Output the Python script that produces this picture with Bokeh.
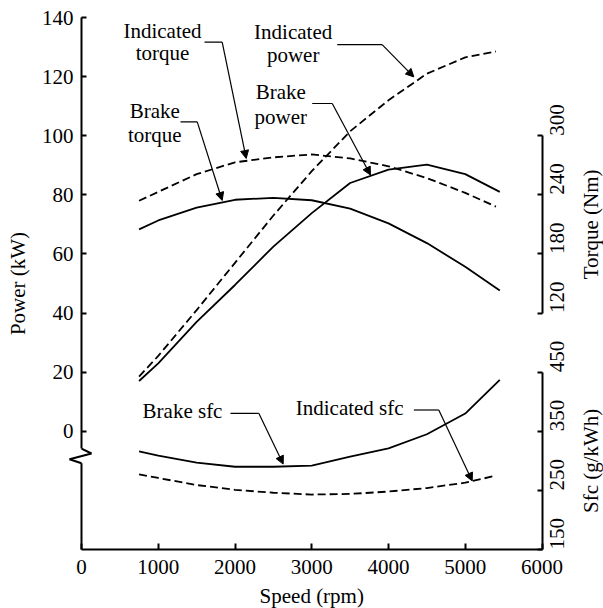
import math
from bokeh.plotting import figure
from bokeh.models import (Range1d, LinearAxis, FixedTicker, Arrow, NormalHead,
                          Label, ColumnDataSource)
from bokeh.embed import file_html
from bokeh.resources import INLINE

# ---------------- data ----------------
speed_brake = [750, 1000, 1500, 2000, 2500, 3000, 3500, 4000, 4500, 5000, 5450]
speed_ind = [750, 1000, 1500, 2000, 2500, 3000, 3500, 4000, 4500, 5000, 5400]

brake_power = [17, 23, 37, 49.5, 62.5, 73.8, 84, 88.5, 90.2, 87, 81]
ind_power = [18.5, 25.5, 41, 57, 73, 88, 101.5, 112, 121, 126.5, 128.5]

brake_torque = [205, 214, 227, 235, 237, 234.5, 226, 211, 191, 167, 143]
ind_torque = [234, 243, 261, 273, 278, 281, 277, 269, 257, 242, 228]

brake_sfc = [316, 309, 297, 290, 290, 292, 307, 321, 345, 380, 437]
ind_sfc = [277, 271, 259, 251, 246, 243, 244, 248, 254, 263, 275]

speed_ticks = [0, 1000, 2000, 3000, 4000, 5000, 6000]
power_ticks = [0, 20, 40, 60, 80, 100, 120, 140]
torque_ticks = [120, 180, 240, 300]
sfc_ticks = [150, 250, 350, 450]

# axis extents (in each quantity's own units)
speed_axis = (0, 6000)
power_axis = (-40, 140)          # bottom axis sits at -40 kW
power_axis_break = (-5.84, -10.8)
torque_on_power = (40, 100)      # where 120..300 Nm sits on the power scale
sfc_on_power = (-40, 20)         # where 150..450 g/kWh sits on the power scale

# callouts
ann_text = ["Indicated", "torque", "Indicated", "power", "Brake", "power",
            "Brake", "torque", "Brake sfc", "Indicated sfc"]
ann_x = [1055, 1055, 2758, 2758, 2597, 2597, 954, 954, 1316, 3494]
ann_y = [135.6, 127.9, 135.1, 127.2, 114.8, 106.4, 108.3, 100.2, 6.85, 8.0]

leaders = [
    [(1603, 131.7), (1833, 131.7), (2146, 92.3)],
    [(3332, 130.8), (3917, 130.8), (4330, 119.9)],
    [(3006, 110.9), (3267, 110.9), (3765, 86.7)],
    [(1290, 104.7), (1508, 104.7), (1833, 78.1)],
    [(1941, 6.07), (2310, 6.07), (2628, -11.1)],
    [(4330, 7.2), (4655, 7.2), (5091, -16.8)],
]

FONT = "Liberation Serif"
FS = "21px"
LW = 1.8
DASH = "8 4"

W, H = 603, 608
# pixel placement of the axes box inside the canvas
PX_LEFT, PX_RIGHT, PX_TOP, PX_BOTTOM = 81, 541.5, 17, 549

kx = (speed_axis[1] - speed_axis[0]) / (PX_RIGHT - PX_LEFT)
ky = (power_axis[1] - power_axis[0]) / (PX_BOTTOM - PX_TOP)
x_range = Range1d(speed_axis[0] - PX_LEFT * kx, speed_axis[1] + (W - PX_RIGHT) * kx)
y_range = Range1d(power_axis[0] - (H - PX_BOTTOM) * ky, power_axis[1] + PX_TOP * ky)


def extra_range(vals, on_power):
    v0, v1 = vals[0], vals[-1]
    s = (v1 - v0) / (on_power[1] - on_power[0])
    return Range1d(v0 + (y_range.start - on_power[0]) * s,
                   v0 + (y_range.end - on_power[0]) * s)


p = figure(width=W, height=H, x_range=x_range, y_range=y_range,
           x_axis_location=None, y_axis_location=None,
           output_backend="svg", toolbar_location=None, min_border=0)
p.extra_y_ranges = {"torque": extra_range(torque_ticks, torque_on_power),
                    "sfc": extra_range(sfc_ticks, sfc_on_power)}
p.grid.visible = False
p.outline_line_color = None
p.background_fill_color = "white"
p.border_fill_color = "white"

# curves
p.line(speed_ind, ind_power, line_dash=DASH, line_width=LW, color="black")
p.line(speed_brake, brake_power, line_width=LW, color="black")
p.line(speed_ind, ind_torque, y_range_name="torque", line_dash=DASH, line_width=LW, color="black")
p.line(speed_brake, brake_torque, y_range_name="torque", line_width=LW, color="black")
p.line(speed_brake, brake_sfc, y_range_name="sfc", line_width=LW, color="black")
p.line(speed_ind, ind_sfc, y_range_name="sfc", line_dash=DASH, line_width=LW, color="black")


def make_axis(ticks, **kw):
    ax = LinearAxis(ticker=FixedTicker(ticks=ticks), **kw)
    ax.major_tick_in = 5
    ax.major_tick_out = 0
    ax.minor_tick_line_color = None
    ax.major_tick_line_width = 2
    ax.axis_line_width = 2
    ax.major_label_text_font = FONT
    ax.major_label_text_font_size = FS
    ax.major_label_text_color = "black"
    ax.axis_line_color = "black"
    ax.major_tick_line_color = "black"
    return ax


bottom = make_axis(speed_ticks, fixed_location=power_axis[0], bounds=speed_axis)
bottom.major_tick_in = 6
bottom.major_label_standoff = 10
p.add_layout(bottom, "below")

left = make_axis(power_ticks, fixed_location=speed_axis[0],
                 bounds=(power_axis_break[0], power_axis[1]))
left.major_label_standoff = 8
p.add_layout(left, "left")

right_t = make_axis(torque_ticks, y_range_name="torque", fixed_location=speed_axis[1],
                    bounds=(torque_ticks[0], torque_ticks[-1]))
right_s = make_axis(sfc_ticks, y_range_name="sfc", fixed_location=speed_axis[1],
                    bounds=(sfc_ticks[0], sfc_ticks[-1]))
for ax in (right_t, right_s):
    ax.major_label_orientation = math.pi / 2
    ax.major_label_standoff = 15
    p.add_layout(ax, "right")

# axis break (zig-zag) on the power axis, then the lower part of that axis
zz = ColumnDataSource(data=dict(
    x0=[0, 130, -156, 0],
    y0=[power_axis_break[0], -7.52, -9.45, power_axis_break[1]],
    x1=[130, -156, 0, 0],
    y1=[-7.52, -9.45, power_axis_break[1], power_axis[0]],
))
p.add_layout(Arrow(x_start="x0", y_start="y0", x_end="x1", y_end="y1",
                   source=zz, end=None, line_width=2, line_color="black"))

# axis titles
titles = [
    ("Power (kW)", 0, sum(power_axis) / 2, -64, 0, math.pi / 2),
    ("Speed (rpm)", sum(speed_axis) / 2, power_axis[0], 0, -46, 0),
    ("Torque (Nm)", speed_axis[1], sum(torque_on_power) / 2, 48.5, 0, math.pi / 2),
    ("Sfc (g/kWh)", speed_axis[1], sum(sfc_on_power) / 2, 48.5, 0, math.pi / 2),
]
for txt, x, y, xo, yo, ang in titles:
    p.add_layout(Label(x=x, y=y, x_offset=xo, y_offset=yo, text=txt, angle=ang,
                       text_align="center", text_baseline="middle",
                       text_font=FONT, text_font_size=FS, text_color="black"))

# callout texts
for t, x, y in zip(ann_text, ann_x, ann_y):
    p.add_layout(Label(x=x, y=y, text=t, text_align="center", text_baseline="middle",
                       text_font=FONT, text_font_size=FS, text_color="black"))

# leader lines with arrowheads
for pts in leaders:
    (xa0, ya0), (xa1, ya1), (xa2, ya2) = pts
    p.add_layout(Arrow(x_start=xa0, y_start=ya0, x_end=xa1, y_end=ya1, end=None,
                       line_width=1.2, line_color="black"))
    p.add_layout(Arrow(x_start=xa1, y_start=ya1, x_end=xa2, y_end=ya2,
                       end=NormalHead(size=8, fill_color="black", line_color="black",
                                      line_width=1),
                       line_width=1.2, line_color="black"))

open("out.html", "w").write(file_html(p, INLINE))
